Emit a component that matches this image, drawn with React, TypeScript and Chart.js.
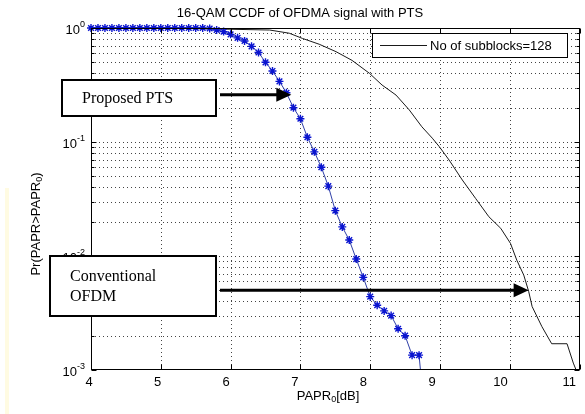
import React, { useEffect, useRef } from "react";
import { Chart, registerables } from "chart.js";

Chart.register(...registerables);

const titleText = "16-QAM CCDF of OFDMA signal with PTS";
const legendLabel = "No of subblocks=128";
const xTickValues = [4, 5, 6, 7, 8, 9, 10, 11];
const yTickExponents = [0, -1, -2, -3];
const yMinorMultipliers = [2, 3, 4, 5, 6, 7, 8, 9];

// Proposed PTS (blue, asterisk markers)
const ptsX = [
  4.0, 4.1, 4.2, 4.3, 4.4, 4.5, 4.6, 4.7, 4.8, 4.9, 5.0, 5.1, 5.2, 5.3, 5.4, 5.5, 5.6,
  5.7, 5.8, 5.9, 6.0, 6.1, 6.2, 6.3, 6.4, 6.5, 6.6, 6.7, 6.8, 6.9, 7.0, 7.1, 7.2, 7.3,
  7.4, 7.5, 7.6, 7.7, 7.8, 7.9, 8.0, 8.1, 8.2, 8.3, 8.4, 8.5, 8.6, 8.7, 8.72,
];
const ptsY = [
  1, 1, 1, 1, 1, 1, 1, 1, 1, 1, 1, 1, 1, 1, 1, 1, 1,
  0.99, 0.96, 0.93, 0.88, 0.82, 0.77, 0.69, 0.61, 0.5, 0.42, 0.34, 0.27, 0.2, 0.16, 0.11, 0.082, 0.06,
  0.041, 0.025, 0.018, 0.0138, 0.0094, 0.0065, 0.0044, 0.0037, 0.0033, 0.003, 0.0023, 0.002, 0.00135, 0.00135, 0.001,
];

// Conventional OFDM (black line)
const convX = [
  4.0, 5.0, 5.99, 6.56, 6.84, 7.03, 7.27, 7.51, 7.74, 7.99, 8.17, 8.37, 8.56, 8.74, 8.89,
  8.99, 9.13, 9.32, 9.51, 9.7, 9.87, 10.01, 10.1, 10.2, 10.27, 10.32, 10.46, 10.6, 10.82, 10.91, 10.95,
];
const convY = [
  1, 1, 0.975, 0.96, 0.9, 0.81, 0.72, 0.62, 0.52, 0.4, 0.316, 0.258, 0.191, 0.136, 0.108,
  0.091, 0.0695, 0.0464, 0.032, 0.0221, 0.0175, 0.0129, 0.0092, 0.0068, 0.0049, 0.0036, 0.0024, 0.0017, 0.0017, 0.00115, 0.001,
];

// Annotations: text lines and the data point the arrow points to
const annoProposedText = ["Proposed PTS"];
const annoProposedTip = [6.87, 0.26];
const annoConvText = ["Conventional", "OFDM"];
const annoConvTip = [10.27, 0.005];

const SANS = '"Liberation Sans", Arial, sans-serif';
const SERIF = '"Liberation Serif", "Times New Roman", serif';

function drawSubText(ctx: CanvasRenderingContext2D, parts: [string, number][], x: number, y: number, size: number, align: "center" | "right" | "left") {
  // parts: [text, shift] shift: 0 normal, 1 superscript, -1 subscript
  ctx.textAlign = "left";
  const widths = parts.map(([t, s]) => {
    ctx.font = `${s === 0 ? size : Math.round(size * 0.72)}px ${SANS}`;
    return ctx.measureText(t).width;
  });
  const total = widths.reduce((a, b) => a + b, 0);
  let cx = align === "center" ? x - total / 2 : align === "right" ? x - total : x;
  parts.forEach(([t, s], i) => {
    ctx.font = `${s === 0 ? size : Math.round(size * 0.72)}px ${SANS}`;
    const dy = s === 1 ? -size * 0.45 : s === -1 ? size * 0.3 : 0;
    ctx.fillText(t, cx, y + dy);
    cx += widths[i];
  });
}

const matlabPlugin = {
  id: "matlab",
  beforeDraw(chart: any) {
    const ctx = chart.ctx as CanvasRenderingContext2D;
    ctx.save();
    ctx.fillStyle = "#ffffff";
    ctx.fillRect(0, 0, chart.width, chart.height);
    ctx.fillStyle = "#fffbe2";
    ctx.fillRect(5, 188, 4, 226);
    ctx.restore();
  },
  beforeDatasetsDraw(chart: any) {
    const ctx = chart.ctx as CanvasRenderingContext2D;
    const { left, right, top, bottom } = chart.chartArea;
    const xs = chart.scales.x;
    const ys = chart.scales.y;
    ctx.save();
    ctx.strokeStyle = "#444";
    ctx.lineWidth = 1;
    ctx.setLineDash([1, 3]);
    xTickValues.forEach((v) => {
      const px = Math.round(xs.getPixelForValue(v)) + 0.5;
      if (px <= left + 1 || px >= right - 1) return;
      ctx.beginPath();
      ctx.moveTo(px, top);
      ctx.lineTo(px, bottom);
      ctx.stroke();
    });
    yTickExponents.forEach((e) => {
      const vals = [Math.pow(10, e), ...yMinorMultipliers.map((m) => m * Math.pow(10, e))];
      vals.forEach((v) => {
        if (v >= 1 || v <= 1e-3) return;
        const py = Math.round(ys.getPixelForValue(v)) + 0.5;
        ctx.beginPath();
        ctx.moveTo(left, py);
        ctx.lineTo(right, py);
        ctx.stroke();
      });
    });
    ctx.restore();
  },
  afterDatasetsDraw(chart: any) {
    const ctx = chart.ctx as CanvasRenderingContext2D;
    const { left, right, top, bottom } = chart.chartArea;
    const xs = chart.scales.x;
    const ys = chart.scales.y;
    ctx.save();
    // box
    ctx.strokeStyle = "#000";
    ctx.lineWidth = 1;
    const L = Math.round(left) + 0.5, R = Math.round(right) - 0.5, T = Math.round(top) + 0.5, B = Math.round(bottom) - 0.5;
    ctx.strokeRect(L, T, R - L, B - T);
    // x ticks (inward, bottom and top)
    xTickValues.forEach((v) => {
      const px = Math.round(xs.getPixelForValue(v)) + 0.5;
      ctx.beginPath();
      ctx.moveTo(px, B); ctx.lineTo(px, B - 5);
      ctx.moveTo(px, T); ctx.lineTo(px, T + 5);
      ctx.stroke();
    });
    // y ticks
    yTickExponents.forEach((e) => {
      const py = Math.round(ys.getPixelForValue(Math.pow(10, e))) + 0.5;
      ctx.beginPath();
      ctx.moveTo(L, py); ctx.lineTo(L + 5, py);
      ctx.moveTo(R, py); ctx.lineTo(R - 5, py);
      ctx.stroke();
      yMinorMultipliers.forEach((m) => {
        const v = m * Math.pow(10, e);
        if (v > 1) return;
        const pm = Math.round(ys.getPixelForValue(v)) + 0.5;
        ctx.beginPath();
        ctx.moveTo(L, pm); ctx.lineTo(L + 3, pm);
        ctx.moveTo(R, pm); ctx.lineTo(R - 3, pm);
        ctx.stroke();
      });
    });
    // tick labels
    ctx.fillStyle = "#000";
    ctx.textBaseline = "middle";
    xTickValues.forEach((v) => {
      const px = xs.getPixelForValue(v) - 2 - (v - 4) * 1.2;
      ctx.font = `13px ${SANS}`;
      ctx.textAlign = "center";
      ctx.fillText(String(v), px, bottom + 12);
    });
    yTickExponents.forEach((e) => {
      const py = ys.getPixelForValue(Math.pow(10, e));
      drawSubText(ctx, [["10", 0], [String(e), 1]], left - 6, py + 2, 13, "right");
    });
    // title
    ctx.font = `13px ${SANS}`;
    ctx.textAlign = "center";
    ctx.fillText(titleText, 300, 13);
    // x axis title
    drawSubText(ctx, [["PAPR", 0], ["0", -1], ["[dB]", 0]], 328, 396, 13, "center");
    // y axis title
    ctx.save();
    ctx.translate(36, 224);
    ctx.rotate(-Math.PI / 2);
    drawSubText(ctx, [["Pr(PAPR>PAPR", 0], ["0", -1], [")", 0]], 0, 0, 13, "center");
    ctx.restore();
    // legend
    ctx.fillStyle = "#fff";
    ctx.fillRect(372.5, 33.5, 195, 24);
    ctx.strokeStyle = "#000";
    ctx.lineWidth = 1;
    ctx.strokeRect(372.5, 33.5, 195, 24);
    ctx.strokeStyle = chart.data.datasets[1].borderColor;
    ctx.beginPath();
    ctx.moveTo(380, 45.5); ctx.lineTo(427, 45.5);
    ctx.stroke();
    ctx.fillStyle = "#000";
    ctx.font = `13px ${SANS}`;
    ctx.textAlign = "left";
    ctx.fillText(legendLabel, 430, 46);

    // annotations
    const drawBox = (x: number, y: number, w: number, h: number, lines: string[], tx: number, ty0: number, lh: number) => {
      ctx.fillStyle = "#fff";
      ctx.fillRect(x, y, w, h);
      ctx.strokeStyle = "#000";
      ctx.lineWidth = 2;
      ctx.strokeRect(x, y, w, h);
      ctx.fillStyle = "#000";
      ctx.font = `16px ${SERIF}`;
      ctx.textAlign = "left";
      ctx.textBaseline = "middle";
      lines.forEach((l, i) => ctx.fillText(l, tx, ty0 + i * lh));
    };
    const drawArrow = (x0: number, tipX: number, tipY: number) => {
      ctx.strokeStyle = "#000";
      ctx.fillStyle = "#000";
      ctx.lineWidth = 3;
      ctx.beginPath();
      ctx.moveTo(x0, tipY);
      ctx.lineTo(tipX - 12, tipY);
      ctx.stroke();
      ctx.beginPath();
      ctx.moveTo(tipX, tipY);
      ctx.lineTo(tipX - 15, tipY - 7);
      ctx.lineTo(tipX - 15, tipY + 7);
      ctx.closePath();
      ctx.fill();
    };
    drawBox(62, 80, 154, 36, annoProposedText, 82, 99, 20);
    drawArrow(220, xs.getPixelForValue(annoProposedTip[0]), ys.getPixelForValue(annoProposedTip[1]));
    drawBox(50, 256, 166, 60, annoConvText, 70, 277, 20);
    drawArrow(220, xs.getPixelForValue(annoConvTip[0]), ys.getPixelForValue(annoConvTip[1]));
    ctx.restore();
  },
};

export default function App() {
  const ref = useRef<HTMLCanvasElement>(null);
  useEffect(() => {
    document.body.style.margin = "0";
    const chart = new Chart(ref.current as HTMLCanvasElement, {
      type: "line",
      data: {
        datasets: [
          {
            label: "Proposed PTS",
            data: ptsX.map((x, i) => ({ x, y: ptsY[i] })),
            borderColor: "#3040a8",
            borderWidth: 1,
            pointStyle: "star",
            pointRadius: ptsX.map((_, i) => (i === ptsX.length - 1 ? 0 : 4)),
            pointBorderColor: "#0a14d0",
            pointBackgroundColor: "#0a14d0",
            pointBorderWidth: 1.4,
            clip: false,
            tension: 0,
          } as any,
          {
            label: legendLabel,
            data: convX.map((x, i) => ({ x, y: convY[i] })),
            borderColor: "#1a1a1a",
            borderWidth: 1,
            pointRadius: 0,
            clip: false,
            tension: 0,
          } as any,
        ],
      },
      options: {
        responsive: false,
        animation: false,
        events: [],
        layout: { padding: { left: 0, right: 3, top: 28, bottom: 0 } },
        plugins: { legend: { display: false }, tooltip: { enabled: false }, title: { display: false } },
        scales: {
          x: {
            type: "linear",
            min: 4,
            max: 11,
            grid: { display: false },
            border: { display: false },
            ticks: { display: false },
            afterFit: (s: any) => { s.height = 44; },
          },
          y: {
            type: "logarithmic",
            min: 1e-3,
            max: 1,
            grid: { display: false },
            border: { display: false },
            ticks: { display: false },
            afterFit: (s: any) => { s.width = 91; },
          },
        },
      } as any,
      plugins: [matlabPlugin],
    });
    return () => chart.destroy();
  }, []);
  return (
    <div style={{ position: "fixed", left: 0, top: 0, width: 585, height: 414, background: "#fff" }}>
      <canvas ref={ref} width={585} height={414} style={{ display: "block" }} />
    </div>
  );
}
